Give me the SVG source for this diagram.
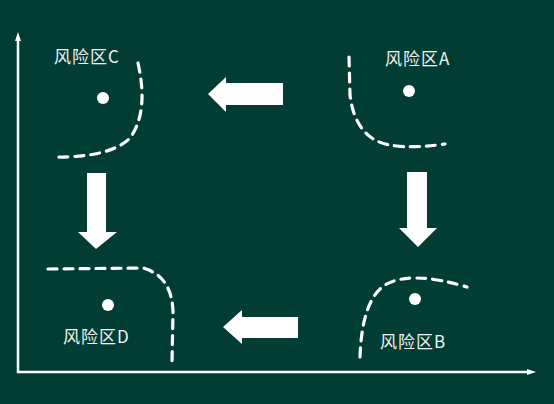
<svg xmlns="http://www.w3.org/2000/svg" width="554" height="404" viewBox="0 0 554 404">
<style>
.lbl{font-family:"Noto Sans CJK SC","Noto Sans",sans-serif;font-size:17px;fill:#f2f2f2;font-weight:400;letter-spacing:1px}
.zone{fill:none;stroke:#ffffff;stroke-width:3.2;stroke-linecap:round;stroke-dasharray:9 7}
.dot{fill:#ffffff}
.arr{fill:#ffffff}
.axis{stroke:#ffffff;stroke-width:2.5;fill:none}
</style>
<rect width="554" height="404" fill="#013d35"/>
<g id="axes">
<path class="axis" d="M18,38 L18,372 L530,372"/>
<path fill="#ffffff" d="M18,32 L21,41 L15,41 Z"/>
<path fill="#ffffff" d="M536,372 L527,369 L527,375 Z"/>
</g>
<g id="zoneC">
<path class="zone" d="M138,63 Q149,112 130,138 Q110,158 52,157"/>
<circle class="dot" cx="103" cy="98" r="6"/>
<text class="lbl" x="54" y="63">风险区C</text>
</g>
<g id="zoneA">
<path class="zone" d="M349,57 L350,95 Q354,128 375,140 Q395,151 445,144"/>
<circle class="dot" cx="409" cy="91" r="6"/>
<text class="lbl" x="385" y="65">风险区A</text>
</g>
<g id="zoneD">
<path class="zone" d="M48,269 L143,268 Q172,276 173,312 L172,362"/>
<circle class="dot" cx="108" cy="305" r="6"/>
<text class="lbl" x="63" y="343">风险区D</text>
</g>
<g id="zoneB">
<path class="zone" d="M360,357 Q362,300 385,285 Q410,270 467,287"/>
<circle class="dot" cx="415" cy="299" r="6"/>
<text class="lbl" x="380" y="348">风险区B</text>
</g>
<g id="connectors">
<polygon class="arr" points="208,94 226,77 226,83 283,83 283,105 226,105 226,112"/>
<polygon class="arr" points="223,327 242,310 242,317 298,317 298,338 242,338 242,344"/>
<polygon class="arr" points="87,173 106,173 106,232 117,232 96,249 78,232 87,232"/>
<polygon class="arr" points="407,172 427,172 427,228 437,228 418,247 399,228 407,228"/>
</g>
</svg>
